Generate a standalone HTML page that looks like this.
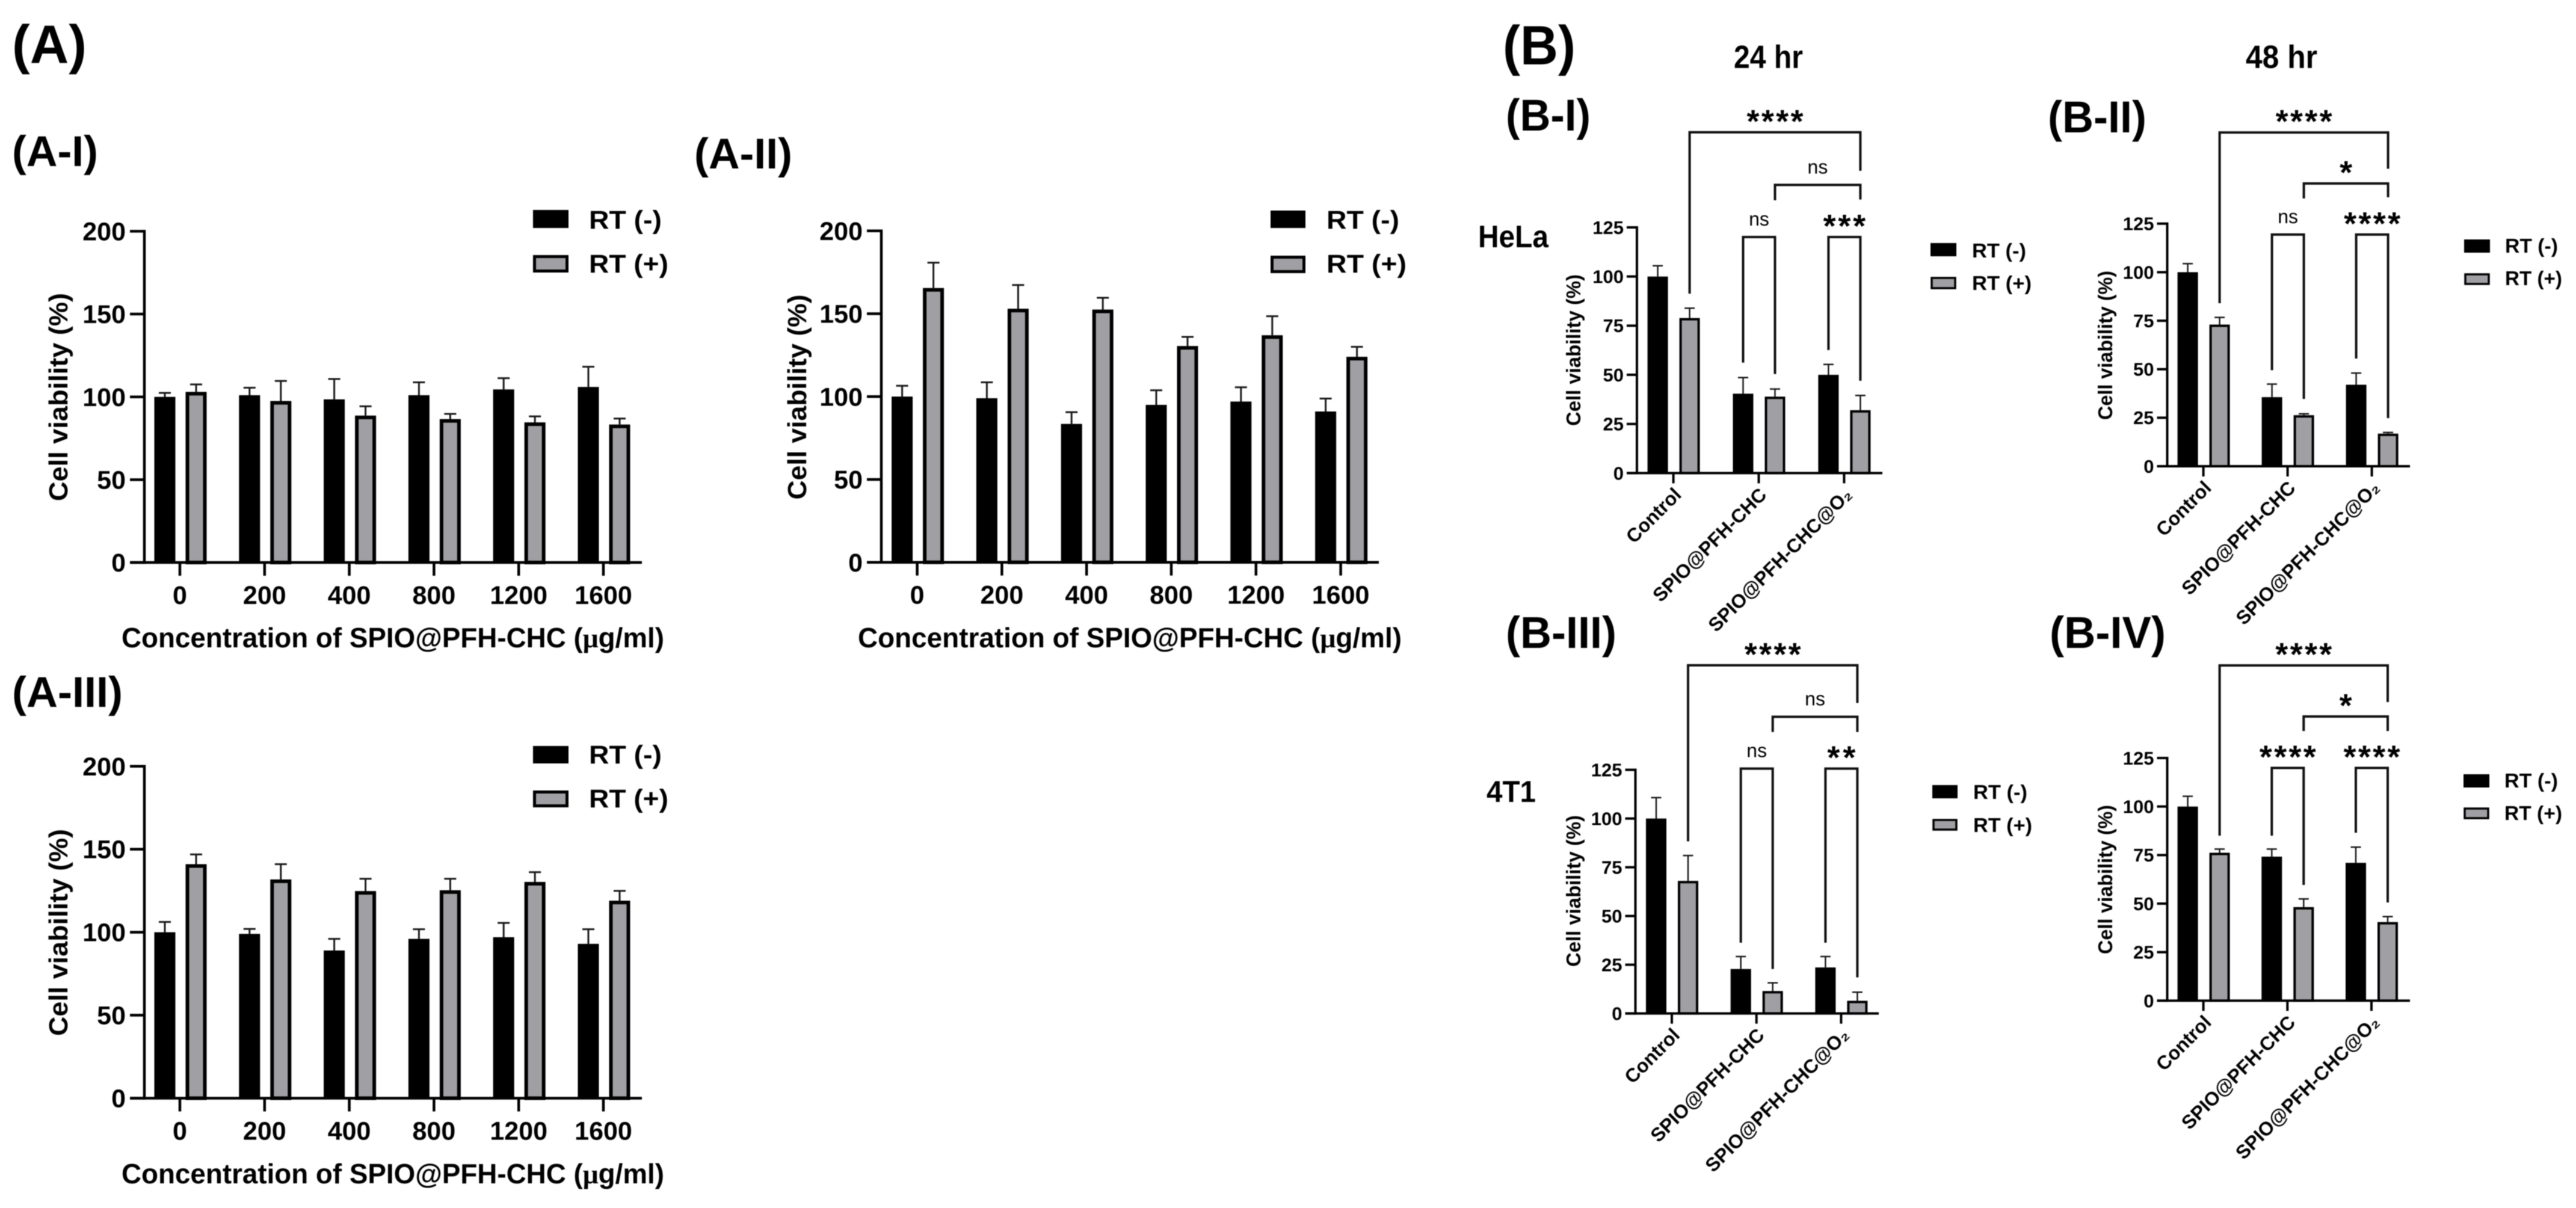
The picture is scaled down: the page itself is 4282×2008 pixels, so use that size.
<!DOCTYPE html>
<html lang="en">
<head>
<meta charset="utf-8">
<title>Cell viability bar charts</title>
<style>
html,body{margin:0;padding:0;background:#fff;}
svg{display:block;filter:blur(0.9px);}
text{font-family:"Liberation Sans",sans-serif;fill:#000;}
.b{font-weight:700;}
</style>
</head>
<body>
<svg id="figure" xmlns="http://www.w3.org/2000/svg" width="4282" height="2008" viewBox="0 0 4282 2008">
<rect x="0" y="0" width="4282" height="2008" fill="#fff"/>

<text class="b" x="20" y="105" font-size="90" textLength="124" lengthAdjust="spacingAndGlyphs">(A)</text>
<text class="b" x="20" y="276" font-size="71" textLength="143" lengthAdjust="spacingAndGlyphs">(A-I)</text>
<text class="b" x="1154" y="280" font-size="71" textLength="163" lengthAdjust="spacingAndGlyphs">(A-II)</text>
<text class="b" x="20" y="1175" font-size="71" textLength="184" lengthAdjust="spacingAndGlyphs">(A-III)</text>
<text class="b" x="2498" y="107" font-size="92" textLength="121" lengthAdjust="spacingAndGlyphs">(B)</text>
<text class="b" x="2882" y="113" font-size="54" textLength="115" lengthAdjust="spacingAndGlyphs">24 hr</text>
<text class="b" x="3733" y="113" font-size="54" textLength="119" lengthAdjust="spacingAndGlyphs">48 hr</text>
<text class="b" x="2503" y="217" font-size="74" textLength="141" lengthAdjust="spacingAndGlyphs">(B-I)</text>
<text class="b" x="3404" y="220" font-size="74" textLength="164" lengthAdjust="spacingAndGlyphs">(B-II)</text>
<text class="b" x="2503" y="1077" font-size="74" textLength="184" lengthAdjust="spacingAndGlyphs">(B-III)</text>
<text class="b" x="3407" y="1077" font-size="74" textLength="193" lengthAdjust="spacingAndGlyphs">(B-IV)</text>
<text class="b" x="2457" y="411" font-size="52" textLength="117" lengthAdjust="spacingAndGlyphs">HeLa</text>
<text class="b" x="2471" y="1333" font-size="50" textLength="82" lengthAdjust="spacingAndGlyphs">4T1</text>

<!-- axis titles -->
<text class="b" font-size="44" text-anchor="middle" transform="translate(112,660) rotate(-90)" textLength="346" lengthAdjust="spacingAndGlyphs">Cell viability (%)</text>
<text class="b" font-size="44" text-anchor="middle" transform="translate(1340,660) rotate(-90)" textLength="341" lengthAdjust="spacingAndGlyphs">Cell viability (%)</text>
<text class="b" font-size="44" text-anchor="middle" transform="translate(112,1550) rotate(-90)" textLength="344" lengthAdjust="spacingAndGlyphs">Cell viability (%)</text>
<text class="b" font-size="46" x="202" y="1076" textLength="902" lengthAdjust="spacingAndGlyphs">Concentration of SPIO@PFH-CHC (<tspan font-family="Liberation Serif">μ</tspan>g/ml)</text>
<text class="b" font-size="46" x="1426" y="1076" textLength="904" lengthAdjust="spacingAndGlyphs">Concentration of SPIO@PFH-CHC (<tspan font-family="Liberation Serif">μ</tspan>g/ml)</text>
<text class="b" font-size="46" x="202" y="1967" textLength="902" lengthAdjust="spacingAndGlyphs">Concentration of SPIO@PFH-CHC (<tspan font-family="Liberation Serif">μ</tspan>g/ml)</text>
<text class="b" font-size="33" text-anchor="middle" transform="translate(2627,582) rotate(-90)" textLength="252" lengthAdjust="spacingAndGlyphs">Cell viability (%)</text>
<text class="b" font-size="33" text-anchor="middle" transform="translate(3511,574) rotate(-90)" textLength="248" lengthAdjust="spacingAndGlyphs">Cell viability (%)</text>
<text class="b" font-size="33" text-anchor="middle" transform="translate(2627,1481) rotate(-90)" textLength="252" lengthAdjust="spacingAndGlyphs">Cell viability (%)</text>
<text class="b" font-size="33" text-anchor="middle" transform="translate(3511,1462) rotate(-90)" textLength="248" lengthAdjust="spacingAndGlyphs">Cell viability (%)</text>

<!-- legends -->
<g>
<rect x="886" y="349" width="59" height="30" fill="#000"/>
<text class="b" x="979" y="380" font-size="43" textLength="121" lengthAdjust="spacingAndGlyphs">RT (-)</text>
<rect x="888.5" y="426.5" width="54" height="24" fill="#a0a0a4" stroke="#000" stroke-width="5"/>
<text class="b" x="979" y="453" font-size="43" textLength="132" lengthAdjust="spacingAndGlyphs">RT (+)</text>
</g>
<g>
<rect x="2112" y="350" width="58" height="29" fill="#000"/>
<text class="b" x="2205" y="380" font-size="43" textLength="121" lengthAdjust="spacingAndGlyphs">RT (-)</text>
<rect x="2114.5" y="427.5" width="53" height="24" fill="#a0a0a4" stroke="#000" stroke-width="5"/>
<text class="b" x="2205" y="453" font-size="43" textLength="133" lengthAdjust="spacingAndGlyphs">RT (+)</text>
</g>
<g>
<rect x="886" y="1240" width="59" height="29" fill="#000"/>
<text class="b" x="979" y="1269" font-size="43" textLength="121" lengthAdjust="spacingAndGlyphs">RT (-)</text>
<rect x="888.5" y="1316.5" width="54" height="23" fill="#a0a0a4" stroke="#000" stroke-width="5"/>
<text class="b" x="979" y="1342" font-size="43" textLength="132" lengthAdjust="spacingAndGlyphs">RT (+)</text>
</g>
<g>
<rect x="3209" y="404" width="43" height="22" fill="#000"/>
<text class="b" x="3278" y="428" font-size="33" textLength="90" lengthAdjust="spacingAndGlyphs">RT (-)</text>
<rect x="3211" y="462" width="39" height="17" fill="#a0a0a4" stroke="#000" stroke-width="3.5"/>
<text class="b" x="3278" y="482" font-size="33" textLength="99" lengthAdjust="spacingAndGlyphs">RT (+)</text>
</g>
<g>
<rect x="4096" y="398" width="43" height="22" fill="#000"/>
<text class="b" x="4164" y="420" font-size="33" textLength="88" lengthAdjust="spacingAndGlyphs">RT (-)</text>
<rect x="4098" y="456" width="39" height="16" fill="#a0a0a4" stroke="#000" stroke-width="3.5"/>
<text class="b" x="4164" y="474" font-size="33" textLength="95" lengthAdjust="spacingAndGlyphs">RT (+)</text>
</g>
<g>
<rect x="3212" y="1305" width="42" height="22" fill="#000"/>
<text class="b" x="3280" y="1328" font-size="33" textLength="90" lengthAdjust="spacingAndGlyphs">RT (-)</text>
<rect x="3214" y="1363" width="38" height="16" fill="#a0a0a4" stroke="#000" stroke-width="3.5"/>
<text class="b" x="3280" y="1383" font-size="33" textLength="98" lengthAdjust="spacingAndGlyphs">RT (+)</text>
</g>
<g>
<rect x="4095" y="1287" width="43" height="22" fill="#000"/>
<text class="b" x="4163" y="1309" font-size="33" textLength="89" lengthAdjust="spacingAndGlyphs">RT (-)</text>
<rect x="4097" y="1344" width="39" height="16" fill="#a0a0a4" stroke="#000" stroke-width="3.5"/>
<text class="b" x="4163" y="1363" font-size="33" textLength="96" lengthAdjust="spacingAndGlyphs">RT (+)</text>
</g>
</svg>

<script>
// Shared categories and ticks
const doseLabels = ['0', '200', '400', '800', '1200', '1600'];
const groupLabels = ['Control', 'SPIO@PFH-CHC', 'SPIO@PFH-CHC@O₂'];
const yTicksA = [0, 50, 100, 150, 200];
const yTicksB = [0, 25, 50, 75, 100, 125];

// Panel A-I
const aIMinus = [100, 101, 98.5, 101, 104.5, 106];
const aIMinusUpper = [102.4, 105.5, 110.8, 108.8, 111.3, 118.2];
const aIPlus = [103, 97.5, 88.7, 86.6, 84.6, 83.3];
const aIPlusUpper = [107.5, 109.6, 94.3, 89.7, 88.2, 86.9];

// Panel A-II
const aIIMinus = [100, 99, 83.5, 95, 97, 91];
const aIIMinusUpper = [106.5, 108.6, 90.6, 103.8, 105.6, 98.8];
const aIIPlus = [165.5, 153, 152.5, 130.5, 137, 124];
const aIIPlusUpper = [180.8, 167.3, 159.6, 136, 148.5, 130];

// Panel A-III
const aIIIMinus = [100, 99, 89, 96, 97, 93];
const aIIIMinusUpper = [106.2, 102, 96, 101.8, 105.6, 101.8];
const aIIIPlus = [141, 131.8, 124.8, 125.3, 130.3, 119];
const aIIIPlusUpper = [146.9, 141, 132.2, 132.2, 136.2, 124.9];

// Panel B-I
const bIMinus = [100, 40.4, 50];
const bIMinusUpper = [105.5, 48.6, 55.3];
const bIPlus = [78.9, 38.9, 32];
const bIPlusUpper = [83.9, 42.8, 39.5];
const bICompTop = [173.4, 146.6, 120.1, 120.1];
const bICompLeftEnd = [91.3, 138.8, 56.2, 62.6];
const bICompRightEnd = [153.8, 139.2, 50.4, 47];
const bICompLabels = ['****', 'ns', 'ns', '***'];

// Panel B-II
const bIIMinus = [100, 35.6, 42];
const bIIMinusUpper = [104.4, 42.3, 48];
const bIIPlus = [73, 26.3, 16.8];
const bIIPlusUpper = [76.7, 27, 17.4];
const bIICompTop = [172, 145.7, 119.4, 119.4];
const bIICompLeftEnd = [84, 138, 49.5, 55.5];
const bIICompRightEnd = [153.3, 138.6, 34.7, 24.8];
const bIICompLabels = ['****', '*', 'ns', '****'];

// Panel B-III
const bIIIMinus = [100, 22.8, 23.6];
const bIIIMinusUpper = [110.7, 29.2, 29.2];
const bIIIPlus = [68, 11.5, 6.5];
const bIIIPlusUpper = [81, 15.7, 10.9];
const bIIICompTop = [178.6, 152.2, 125.6, 125.6];
const bIIICompLeftEnd = [88.3, 144.4, 36.3, 36.3];
const bIIICompRightEnd = [159.3, 144.4, 22.8, 18.5];
const bIIICompLabels = ['****', 'ns', 'ns', '**'];

// Panel B-IV
const bIVMinus = [100, 74.2, 71];
const bIVMinusUpper = [105.3, 78.1, 79.1];
const bIVPlus = [76.2, 48.2, 40.5];
const bIVPlusUpper = [78.1, 52.4, 43.3];
const bIVCompTop = [172.7, 146.4, 119.9, 119.9];
const bIVCompLeftEnd = [85, 138.9, 85, 86.5];
const bIVCompRightEnd = [153.8, 138.9, 59.6, 50.6];
const bIVCompLabels = ['****', '*', '****', '****'];

// Comparison endpoints as [group, series]; series 0 = RT (-), 1 = RT (+)
const compFrom = [[0, 1], [1, 1], [1, 0], [2, 0]];
const compTo = [[2, 1], [2, 1], [1, 1], [2, 1]];

const NS = 'http://www.w3.org/2000/svg';
const fig = document.getElementById('figure');

function make(tag, parent, props) {
  const node = document.createElementNS(NS, tag);
  for (const k in props) node.setAttribute(k, props[k]);
  parent.appendChild(node);
  return node;
}

function drawChart(name, cats, yTicks, minus, minusUpper, plus, plusUpper, L, comp) {
  const yMax = yTicks[yTicks.length - 1];
  const yScale = v => L.y0 - v * (L.y0 - L.yTop) / yMax;
  const xScale = i => L.tick0 + i * L.step;
  const barCenter = (g, s) => xScale(g) + (s === 0 ? L.off0 : L.off1);

  const g = make('g', fig, {});
  
  

  // bars and error bars
  [minus, plus].forEach((series, s) => {
    const upper = s === 0 ? minusUpper : plusUpper;
    const seriesName = s === 0 ? 'rt-minus' : 'rt-plus';
    series.forEach((v, i) => {
      const c = barCenter(i, s);
      const ey = make('line', g, {x1: c, x2: c, y1: yScale(v), y2: yScale(upper[i]), stroke: '#1a1a1a', 'stroke-width': L.errW});
      
      
      const cap = make('line', g, {x1: c - L.capW / 2, x2: c + L.capW / 2, y1: yScale(upper[i]), y2: yScale(upper[i]), stroke: '#1a1a1a', 'stroke-width': L.errW});
      
      
      const sw = L.barStroke;
      const bar = make('rect', g, s === 0
        ? {x: c - L.barW / 2, y: yScale(v), width: L.barW, height: L.y0 - yScale(v), fill: '#000'}
        : {x: c - L.barW / 2 + sw / 2, y: yScale(v) + sw / 2, width: L.barW - sw, height: L.y0 - yScale(v) - sw / 2, fill: '#a0a0a4', stroke: '#000', 'stroke-width': sw});
      
      
    });
  });

  // axes
  const yAxis = make('line', g, {x1: L.axisX, x2: L.axisX, y1: yScale(yMax) - L.axisW / 2, y2: L.y0 + L.axisW / 2, stroke: '#000', 'stroke-width': L.axisW});
  
  
  const xAxis = make('line', g, {x1: L.axisX - L.tickLen, x2: L.xEnd, y1: L.y0, y2: L.y0, stroke: '#000', 'stroke-width': L.axisW});
  
  

  yTicks.forEach(t => {
    const tk = make('line', g, {x1: L.axisX - L.tickLen, x2: L.axisX, y1: yScale(t), y2: yScale(t), stroke: '#000', 'stroke-width': L.axisW});
    
    
    const lb = make('text', g, {x: L.axisX - L.tickLen - L.labelGap, y: yScale(t) + L.fs * 0.35, 'text-anchor': 'end', 'font-size': L.fs, 'font-weight': 700});
    lb.textContent = String(t);
    
    
  });

  cats.forEach((label, i) => {
    const tk = make('line', g, {x1: xScale(i), x2: xScale(i), y1: L.y0, y2: L.y0 + L.xTickLen, stroke: '#000', 'stroke-width': L.axisW});
    
    
    const props = L.rotate
      ? {'text-anchor': 'end', 'font-size': L.catFs, 'font-weight': 700, transform: 'translate(' + (xScale(i) + 15) + ',' + (L.y0 + 38) + ') rotate(-45)'}
      : {x: xScale(i), y: L.y0 + 69, 'text-anchor': 'middle', 'font-size': L.fs, 'font-weight': 700};
    const lb = make('text', g, props);
    lb.textContent = label;
    
    
  });

  // significance brackets
  if (comp) {
    compFrom.forEach((from, k) => {
      const to = compTo[k];
      const x1 = barCenter(from[0], from[1]);
      const x2 = barCenter(to[0], to[1]);
      const top = yScale(comp.top[k]);
      const br = make('path', g, {d: 'M' + x1 + ' ' + yScale(comp.left[k]) + 'V' + top + 'H' + x2 + 'V' + yScale(comp.right[k]), fill: 'none', stroke: '#111', 'stroke-width': 4});
      
      
      const label = comp.labels[k];
      const isStar = label.indexOf('*') === 0;
      const cx = (x1 + x2) / 2;
      const lb = make('text', g, isStar
        ? {x: cx, y: top, 'text-anchor': 'middle', 'font-size': 54, 'font-weight': 700, textLength: 23.5 * label.length, lengthAdjust: 'spacing'}
        : {x: cx, y: top - 19, 'text-anchor': 'middle', 'font-size': 32});
      lb.textContent = label;
      
      
    });
  }
}

const styleA = {off0: -25, off1: 27, barW: 35, barStroke: 6, errW: 3, capW: 20, axisW: 4.5, tickLen: 24, xTickLen: 22, labelGap: 7, fs: 43, rotate: false};
const styleB = {off0: -26, off1: 27, barW: 34, barStroke: 4, errW: 2.5, capW: 17, axisW: 4, tickLen: 17, xTickLen: 17, labelGap: 5, fs: 31, catFs: 32, rotate: true};

drawChart('a-i', doseLabels, yTicksA, aIMinus, aIMinusUpper, aIPlus, aIPlusUpper,
  Object.assign({}, styleA, {axisX: 240, y0: 935, yTop: 384.4, xEnd: 1067, tick0: 299, step: 140.8}));
drawChart('a-ii', doseLabels, yTicksA, aIIMinus, aIIMinusUpper, aIIPlus, aIIPlusUpper,
  Object.assign({}, styleA, {axisX: 1465, y0: 934.7, yTop: 383.7, xEnd: 2292, tick0: 1524.6, step: 140.8}));
drawChart('a-iii', doseLabels, yTicksA, aIIIMinus, aIIIMinusUpper, aIIIPlus, aIIIPlusUpper,
  Object.assign({}, styleA, {axisX: 240, y0: 1825.5, yTop: 1273.7, xEnd: 1067, tick0: 299, step: 140.8}));

drawChart('b-i', groupLabels, yTicksB, bIMinus, bIMinusUpper, bIPlus, bIPlusUpper,
  Object.assign({}, styleB, {axisX: 2721, y0: 786.4, yTop: 378, xEnd: 3129, tick0: 2781.6, step: 141.9}),
  {top: bICompTop, left: bICompLeftEnd, right: bICompRightEnd, labels: bICompLabels});
drawChart('b-ii', groupLabels, yTicksB, bIIMinus, bIIMinusUpper, bIIPlus, bIIPlusUpper,
  Object.assign({}, styleB, {axisX: 3602.5, y0: 775, yTop: 371.8, xEnd: 4006, tick0: 3662.6, step: 140}),
  {top: bIICompTop, left: bIICompLeftEnd, right: bIICompRightEnd, labels: bIICompLabels});
drawChart('b-iii', groupLabels, yTicksB, bIIIMinus, bIIIMinusUpper, bIIIPlus, bIIIPlusUpper,
  Object.assign({}, styleB, {axisX: 2718.5, y0: 1684.6, yTop: 1279.6, xEnd: 3123, tick0: 2779, step: 140.7}),
  {top: bIIICompTop, left: bIIICompLeftEnd, right: bIIICompRightEnd, labels: bIIICompLabels});
drawChart('b-iv', groupLabels, yTicksB, bIVMinus, bIVMinusUpper, bIVPlus, bIVPlusUpper,
  Object.assign({}, styleB, {axisX: 3602.5, y0: 1663.4, yTop: 1260, xEnd: 4006, tick0: 3662.6, step: 139.7}),
  {top: bIVCompTop, left: bIVCompLeftEnd, right: bIVCompRightEnd, labels: bIVCompLabels});
</script>
</body>
</html>
